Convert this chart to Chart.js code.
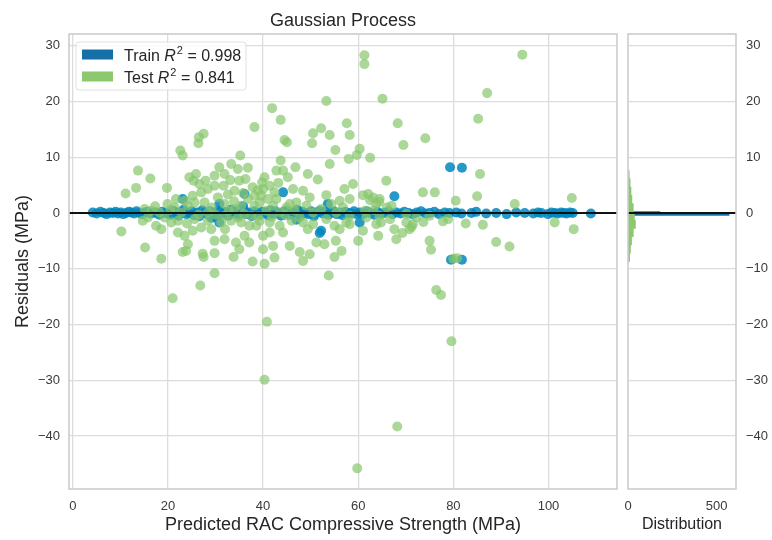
<!DOCTYPE html>
<html>
<head>
<meta charset="utf-8">
<title>Gaussian Process residuals</title>
<script src="https://cdn.jsdelivr.net/npm/chart.js@4.4.1/dist/chart.umd.min.js"></script>
<style>
    html, body { margin: 0; padding: 0; background: #fff; }
    #wrap { position: relative; width: 772px; height: 540px; }
    #main { position: absolute; left: 0; top: 0; }
    #dist { position: absolute; left: 622px; top: 0; }
</style>
</head>
<body>
<div id="wrap">
    <canvas id="main" width="622" height="540"></canvas>
    <canvas id="dist" width="150" height="540"></canvas>
</div>
<script>
// ---- data ----
const CHART_TITLE = "Gaussian Process";
const X_TITLE = "Predicted RAC Compressive Strength (MPa)";
const Y_TITLE = "Residuals (MPa)";
const HIST_TITLE = "Distribution";
const SERIES_NAMES = ["Train", "Test"];
const R2_SCORES = ["0.998", "0.841"];

const X_LIMITS = [-0.8, 114.4];
const Y_LIMITS = [-49.5, 32.1];
const COUNT_LIMITS = [0, 609];
const X_TICKS = [0, 20, 40, 60, 80, 100];
const Y_TICKS = [-40, -30, -20, -10, 0, 10, 20, 30];
const COUNT_TICKS = [0, 500];

const trainPred = [
    4.2, 5.0, 5.8, 6.5, 7.1, 7.8, 8.4, 9.0, 9.5, 10.1, 10.6, 11.2, 11.8, 12.3, 12.9, 13.4, 14.0, 14.6, 15.1, 15.7,
    16.3, 16.9, 17.5, 18.2, 18.8, 19.4, 20.0,
    20.6, 21.1, 21.7, 22.2, 22.8, 23.3, 23.9, 24.4, 25.0, 25.5, 26.1, 26.6, 27.2, 27.7, 28.3, 28.8, 29.4, 29.9,
    30.5, 31.0, 31.6, 32.1, 32.7, 33.2, 33.8, 34.3, 34.9, 35.4, 36.0, 36.5, 37.1, 37.6, 38.2, 38.7, 39.3, 39.8,
    40.4, 41.0, 41.5, 42.1, 42.6, 43.2, 43.8, 44.3, 44.9, 45.5, 46.0, 46.6, 47.2, 47.8, 48.3, 48.9, 49.5, 50.1,
    50.7, 51.3, 51.9, 52.5, 53.1, 53.7, 54.3, 54.9, 55.5, 56.1, 56.7, 57.3, 57.9, 58.5, 59.1, 59.7,
    60.3, 61.0, 61.8, 62.5, 63.3, 64.0, 64.8, 65.6, 66.4, 67.2, 68.0, 68.9, 69.7, 70.6, 71.4, 72.3, 73.2, 74.1,
    75.0, 76.0, 77.0, 78.2, 79.2,
    80.6, 81.7, 83.8, 84.8, 86.9, 89.0, 91.2, 93.2, 95.0, 96.8, 97.8, 98.5, 99.9, 100.6, 101.3, 102.0, 102.7,
    103.3, 103.8, 104.5, 105.1, 108.9,
    23.1, 30.8, 36.1, 44.2, 53.6, 67.6, 79.3, 81.8, 79.5, 81.8, 30.8, 29.1, 51.9, 52.2, 60.3, 35.8, 47.0
];
const trainResid = [
    0.1, -0.1, 0.2, 0.0, -0.2, 0.1, 0.0, 0.2, -0.1, 0.1, -0.2, 0.0, 0.2, 0.1, -0.1, 0.3, 0.0, -0.2, 0.1, 0.2,
    -0.1, 0.0, 0.1, -0.3, 0.2, 0.0, -0.1,
    -0.3, 0.4, 0.1, -0.5, 0.2, 0.6, -0.2, 0.0, 0.3, -0.4, 0.1, -0.6, 0.5, 0.0, -0.2, 0.3, -0.7, 0.1,
    0.4, -0.3, 0.0, 0.2, -0.5, 0.6, -0.1, 0.3, -0.4, 0.0, 0.5, -0.2, 0.1, -0.6, 0.3, 0.0, -0.3, 0.2,
    0.1, -0.4, 0.5, -0.2, 0.3, 0.0, -0.5, 0.2, 0.4, -0.3, 0.1, -0.1, 0.6, -0.4, 0.2, 0.0, -0.2, 0.3,
    -0.6, 0.1, 0.4, -0.1, 0.2, -0.3, 0.0, 0.3, -0.2, 0.1, -0.4, 0.2, 0.0, -0.1, 0.3, -0.2,
    0.1, -0.2, 0.3, 0.0, -0.3, 0.2, -0.1, 0.0, 0.3, -0.2, 0.1, -0.1, 0.2, 0.0, -0.2, 0.1, 0.3, -0.1,
    0.0, 0.2, -0.2, 0.1, 0.0,
    0.1, -0.1, 0.0, 0.2, -0.1, 0.0, -0.2, 0.1, 0.0, -0.1, 0.1, 0.0, -0.2, 0.1, 0.0, -0.1, 0.1,
    0.0, -0.1, 0.1, 0.0, -0.1,
    2.5, 1.6, 3.4, 3.7, 1.6, 3.0, 8.2, 8.1, -8.4, -8.4, -1.7, -0.9, -3.6, -3.2, -1.7, 1.2, -1.2
];

const testPred = [
    38.2, 26.5, 27.5, 26.4, 22.6, 23.1, 35.2, 13.7, 16.3, 13.3, 11.1, 19.8, 24.5, 25.9, 25.4, 26.6, 30.8, 29.8,
    31.9, 31.7, 33.3, 34.7, 36.8, 36.3, 35.0, 34.0, 29.8, 28.4, 27.0, 25.2, 23.6, 21.7, 38.2, 37.8,
    10.2, 14.7, 17.5, 18.6, 20.7, 22.1, 23.5, 25.2, 27.0, 29.1, 31.2, 33.3, 35.4, 37.1, 37.5, 29.8, 31.9, 34.3,
    36.1, 37.1, 35.0, 33.8, 37.8, 24.2, 23.8, 23.1, 27.3, 27.5, 29.8, 15.2, 18.6, 29.8, 26.8, 21.0,
    15.1, 16.5, 18.2, 19.9, 21.4, 22.8, 24.2, 25.6, 27.7, 28.4, 31.9, 34.0, 35.4, 36.8, 38.2, 15.8, 19.3, 22.1,
    25.6, 28.4, 31.9, 34.7,
    53.3, 65.1, 41.9, 43.7, 52.2, 50.5, 54.0, 57.6, 58.2, 44.5, 45.0, 50.3, 68.3, 74.1, 69.5, 55.2, 60.3, 59.7,
    58.0, 62.5, 54.0, 43.7, 42.8, 44.2, 46.8, 45.2, 49.4, 51.5, 40.3, 38.9, 40.0, 41.4, 42.4, 39.6, 41.0, 42.8,
    46.3, 48.4, 49.8, 47.0, 45.6, 53.3, 57.1, 58.9, 56.1, 54.3, 58.2, 65.9, 62.1, 63.1, 64.5, 63.8, 66.0, 67.0,
    73.6, 76.1,
    38.6, 40.0, 41.4, 42.1, 44.2, 45.6, 47.7, 49.8, 48.4, 40.0, 40.3, 42.4, 49.4, 51.2, 52.9, 55.3, 56.5, 55.0,
    56.1, 58.2, 60.0, 61.0, 53.8, 64.2, 67.6, 68.0, 71.5, 70.1, 64.8, 75.0, 75.3, 76.4, 77.4,
    39.3, 40.7, 42.1, 43.5, 44.9, 46.6, 47.7, 49.1, 50.5, 52.2, 55.4, 56.8, 58.2, 61.4, 64.5, 66.7, 70.1, 72.2,
    75.0, 39.3, 41.4, 43.5, 46.0, 48.4, 50.5, 53.3, 55.0, 57.5, 61.7, 63.8, 70.8,
    94.5, 87.1, 85.2, 85.6, 80.5, 85.0, 92.9, 104.9, 77.8, 78.9, 82.6, 86.2, 89.0, 91.8, 101.3, 105.3, 80.0, 80.8,
    61.3, 61.3, 79.6, 40.3, 68.2, 59.8, 40.8, 73.7, 71.2, 69.3, 62.5, 64.4, 63.2, 61.0,
    30.5, 32.6, 33.9, 35.8, 29.2, 30.0, 32.8, 36.0, 39.0, 41.9, 44.7, 26.5, 24.0, 20.5, 17.3, 32.0, 39.8, 43.2,
    27.9, 33.1
];
const testResid = [
    15.4, 13.6, 14.2, 12.5, 11.2, 10.3, 10.3, 7.6, 6.2, 4.5, 3.5, 4.5, 6.4, 7.0, 5.8, 5.2, 8.2, 6.7,
    7.0, 4.9, 8.8, 7.9, 8.1, 6.1, 5.8, 4.0, 4.9, 4.3, 3.7, 3.1, 2.2, 2.5, 3.1, 4.6,
    -3.3, -1.4, -2.3, -2.9, -1.7, -3.5, -4.1, -3.2, -2.6, -2.9, -1.7, -1.4, -1.7, -2.3, -0.5, -5.0, -4.7, -5.3,
    -4.1, -5.3, -6.5, -7.9, -8.7, -5.6, -6.8, -7.0, -7.3, -7.9, -7.2, -6.2, -8.2, -10.8, -13.0, -15.3,
    0.7, 0.4, 0.1, 1.6, 1.0, 0.1, 1.3, 1.9, 1.9, 0.1, 1.6, 0.7, 1.3, 2.5, 1.3, -0.8, -0.8, -1.4,
    -1.1, -1.4, -0.5, -0.8,
    20.1, 20.5, 18.8, 16.7, 15.2, 14.3, 14.0, 16.1, 14.0, 13.1, 12.7, 12.5, 16.1, 13.4, 12.2, 11.3, 11.5, 10.4,
    9.7, 9.9, 8.8, 9.4, 7.6, 7.6, 8.2, 6.4, 7.0, 6.0, 6.4, 4.1, 4.3, 4.9, 3.7, 3.1, 2.5, 2.5,
    4.3, 4.0, 2.8, 1.9, 1.6, 3.2, 4.3, 5.2, 2.2, 1.6, 2.5, 5.8, 3.4, 2.8, 2.5, 1.6, 1.0, 1.3,
    3.7, 3.7,
    -2.3, -4.1, -3.5, -5.9, -3.5, -5.9, -7.0, -7.4, -8.6, -6.5, -9.1, -8.0, -2.9, -5.3, -5.6, -5.0, -6.8, -7.9,
    -2.9, -2.0, -5.0, -3.2, -11.2, -4.1, -2.9, -4.7, -2.0, -1.7, -1.7, -5.0, -6.6, -13.8, -14.7,
    1.9, 0.4, 1.3, 0.1, 1.0, 0.4, -0.8, 1.3, 0.1, 0.7, 0.1, 1.0, -0.5, 0.4, -0.5, -1.1, -0.2, -0.8,
    -0.5, -1.4, -1.7, -2.3, -1.4, -1.7, -2.0, -1.1, -2.3, -1.7, -0.8, -2.0, -2.9,
    28.4, 21.5, 16.9, 7.0, 2.2, 3.0, 1.6, 2.7, -1.5, -1.1, -1.9, -2.1, -5.2, -6.0, -1.7, -2.9, -8.2, -8.1,
    28.3, 26.7, -23.0, -29.9, -38.3, -45.8, -19.5, -1.6, -2.5, -3.6, 2.3, 2.0, 0.5, 3.2,
    2.8, 3.3, 2.1, 3.6, 1.0, -0.3, 0.3, -0.2, -0.6, -0.7, -0.4, -0.3, -1.9, 0.5, 1.2, -2.9, 5.5, 5.4,
    5.8, 5.9
];

// histogram of residuals (bin centre -> count)
const trainHistCenters = [-0.93, -0.60, -0.27, 0.07, 0.40, 0.73];
const trainHistCounts  = [3, 10, 570, 180, 14, 5];
const testHistCenters = [-7.96, -6.48, -4.99, -3.51, -2.02, -0.54, 0.94, 2.43, 3.91, 5.40, 6.88];
const testHistCounts  = [9, 14, 20, 30, 42, 36, 30, 22, 17, 12, 7];

// ---- styling ----
const FONT = "'Liberation Sans', Arial, Helvetica, sans-serif";
const TEXT = '#262626';
const TICK_TEXT = '#3a3a3a';
const GRID = '#dcdcdc';
const FRAME = '#cccccc';
const TRAIN_POINT = 'rgba(0, 135, 190, 0.85)';
const TEST_POINT = 'rgba(135, 198, 108, 0.7)';
const TRAIN_PATCH = '#1570a8';
const TEST_PATCH = '#8cc86e';

const toPoints = (xs, ys) => xs.map((x, i) => ({ x: x, y: ys[i] }));
const minusSign = v => (v < 0 ? '\u2212' + Math.abs(v) : String(v));
const fixedTicks = values => scale => { scale.ticks = values.map(v => ({ value: v })); };
// fixed axis band, and no extra room reserved for edge tick labels
const fitHeight = h => s => { s.height = h; s.paddingLeft = 0; s.paddingRight = 0; };
const fitWidth = w => s => { s.width = w; s.paddingTop = 0; s.paddingBottom = 0; };

const framePlugin = {
    id: 'frame',
    afterDatasetsDraw(chart) {
        const { ctx, chartArea: a } = chart;
        ctx.save();
        ctx.strokeStyle = FRAME;
        ctx.lineWidth = 1.6;
        ctx.strokeRect(a.left, a.top, a.right - a.left, a.bottom - a.top);
        ctx.restore();
    }
};

const titlePlugin = {
    id: 'plotTitle',
    afterDraw(chart) {
        const { ctx, chartArea: a } = chart;
        ctx.save();
        ctx.fillStyle = TEXT;
        ctx.font = `18px ${FONT}`;
        ctx.textAlign = 'center';
        ctx.textBaseline = 'alphabetic';
        ctx.fillText(CHART_TITLE, (a.left + a.right) / 2, a.top - 8);
        ctx.restore();
    }
};

const legendPlugin = {
    id: 'r2Legend',
    afterDraw(chart) {
        const { ctx, chartArea: a } = chart;
        const bx = a.left + 7, by = a.top + 8, bw = 170, bh = 48;
        ctx.save();
        ctx.beginPath();
        ctx.roundRect(bx, by, bw, bh, 3);
        ctx.fillStyle = 'rgba(255,255,255,0.8)';
        ctx.fill();
        ctx.strokeStyle = '#e0e0e0';
        ctx.lineWidth = 1;
        ctx.stroke();

        const colors = [TRAIN_PATCH, TEST_PATCH];
        SERIES_NAMES.forEach((name, i) => {
            const cy = by + 12.5 + i * 22;
            ctx.fillStyle = colors[i];
            ctx.fillRect(bx + 6, cy - 5, 31, 10);

            let tx = bx + 48;
            const base = cy + 6;
            ctx.fillStyle = TEXT;
            ctx.textBaseline = 'alphabetic';
            ctx.textAlign = 'left';
            ctx.font = `16px ${FONT}`;
            const lead = name + ' ';
            ctx.fillText(lead, tx, base);
            tx += ctx.measureText(lead).width;
            ctx.font = `italic 16px ${FONT}`;
            ctx.fillText('R', tx, base);
            tx += ctx.measureText('R').width + 1;
            ctx.font = `11px ${FONT}`;
            ctx.fillText('2', tx, base - 7);
            tx += ctx.measureText('2').width;
            ctx.font = `16px ${FONT}`;
            ctx.fillText(' = ' + R2_SCORES[i], tx, base);
        });
        ctx.restore();
    }
};

// ---- residual scatter ----
new Chart(document.getElementById('main'), {
    type: 'scatter',
    data: {
        datasets: [
            {
                type: 'line',
                label: 'zero',
                data: [{ x: X_LIMITS[0], y: 0 }, { x: X_LIMITS[1], y: 0 }],
                borderColor: '#111111',
                borderWidth: 2.2,
                pointRadius: 0,
                order: 0
            },
            {
                label: SERIES_NAMES[1],
                data: toPoints(testPred, testResid),
                backgroundColor: TEST_POINT,
                borderWidth: 0,
                pointRadius: 5,
                order: 1
            },
            {
                label: SERIES_NAMES[0],
                data: toPoints(trainPred, trainResid),
                backgroundColor: TRAIN_POINT,
                borderWidth: 0,
                pointRadius: 5,
                order: 2
            }
        ]
    },
    options: {
        responsive: false,
        animation: false,
        layout: { padding: { top: 34, right: 5, left: 0, bottom: 0 } },
        plugins: { legend: { display: false }, tooltip: { enabled: false } },
        scales: {
            x: {
                type: 'linear',
                min: X_LIMITS[0],
                max: X_LIMITS[1],
                afterBuildTicks: fixedTicks(X_TICKS),
                afterFit: fitHeight(51),
                grid: { color: GRID, lineWidth: 1.3, drawTicks: false },
                border: { display: false },
                ticks: { padding: 10, color: TICK_TEXT, autoSkip: false,
                         font: { family: FONT, size: 13 }, maxRotation: 0 },
                title: { display: true, text: X_TITLE, color: TEXT,
                         font: { family: FONT, size: 18 }, padding: { top: 0, bottom: 4 } }
            },
            y: {
                type: 'linear',
                min: Y_LIMITS[0],
                max: Y_LIMITS[1],
                afterBuildTicks: fixedTicks(Y_TICKS),
                afterFit: fitWidth(69),
                grid: { color: GRID, lineWidth: 1.3, drawTicks: false },
                border: { display: false },
                ticks: { padding: 9, color: TICK_TEXT, autoSkip: false,
                         font: { family: FONT, size: 13 }, callback: minusSign },
                title: { display: true, text: Y_TITLE, color: TEXT,
                         font: { family: FONT, size: 18 }, padding: { top: 12, bottom: 0 } }
            }
        }
    },
    plugins: [framePlugin, titlePlugin, legendPlugin]
});

// ---- residual distribution ----
new Chart(document.getElementById('dist'), {
    type: 'bar',
    data: {
        datasets: [
            {
                type: 'line',
                label: 'zero',
                data: [{ x: COUNT_LIMITS[0], y: 0 }, { x: COUNT_LIMITS[1], y: 0 }],
                borderColor: '#111111',
                borderWidth: 2.2,
                pointRadius: 0,
                yAxisID: 'y',
                order: 0
            },
            {
                label: SERIES_NAMES[1],
                data: testHistCenters.map((c, i) => ({ y: c, x: testHistCounts[i] })),
                backgroundColor: TEST_PATCH,
                yAxisID: 'y',
                order: 1
            },
            {
                label: SERIES_NAMES[0],
                data: trainHistCenters.map((c, i) => ({ y: c, x: trainHistCounts[i] })),
                backgroundColor: TRAIN_PATCH,
                yAxisID: 'y2',
                order: 2
            }
        ]
    },
    options: {
        indexAxis: 'y',
        responsive: false,
        animation: false,
        datasets: { bar: { grouped: false, barPercentage: 1, categoryPercentage: 1, borderWidth: 0 } },
        layout: { padding: { top: 34, right: 0, left: 6, bottom: 0 } },
        plugins: { legend: { display: false }, tooltip: { enabled: false } },
        scales: {
            x: {
                type: 'linear',
                min: COUNT_LIMITS[0],
                max: COUNT_LIMITS[1],
                afterBuildTicks: fixedTicks(COUNT_TICKS),
                afterFit: fitHeight(51),
                grid: { display: false, drawTicks: false },
                border: { display: false },
                ticks: { padding: 10, color: TICK_TEXT, autoSkip: false,
                         font: { family: FONT, size: 13 }, maxRotation: 0 },
                title: { display: true, text: HIST_TITLE, color: TEXT,
                         font: { family: FONT, size: 16 }, padding: { top: 0, bottom: 6 } }
            },
            y: {
                type: 'linear',
                position: 'right',
                min: Y_LIMITS[0],
                max: Y_LIMITS[1],
                offset: false,
                afterBuildTicks: fixedTicks(Y_TICKS),
                afterFit: fitWidth(36),
                grid: { color: GRID, lineWidth: 1.3, drawTicks: false, offset: false },
                border: { display: false },
                ticks: { padding: 10, color: TICK_TEXT, autoSkip: false,
                         font: { family: FONT, size: 13 }, callback: minusSign }
            },
            y2: {
                type: 'linear',
                display: false,
                min: Y_LIMITS[0],
                max: Y_LIMITS[1],
                offset: false
            }
        }
    },
    plugins: [framePlugin]
});
</script>
</body>
</html>
